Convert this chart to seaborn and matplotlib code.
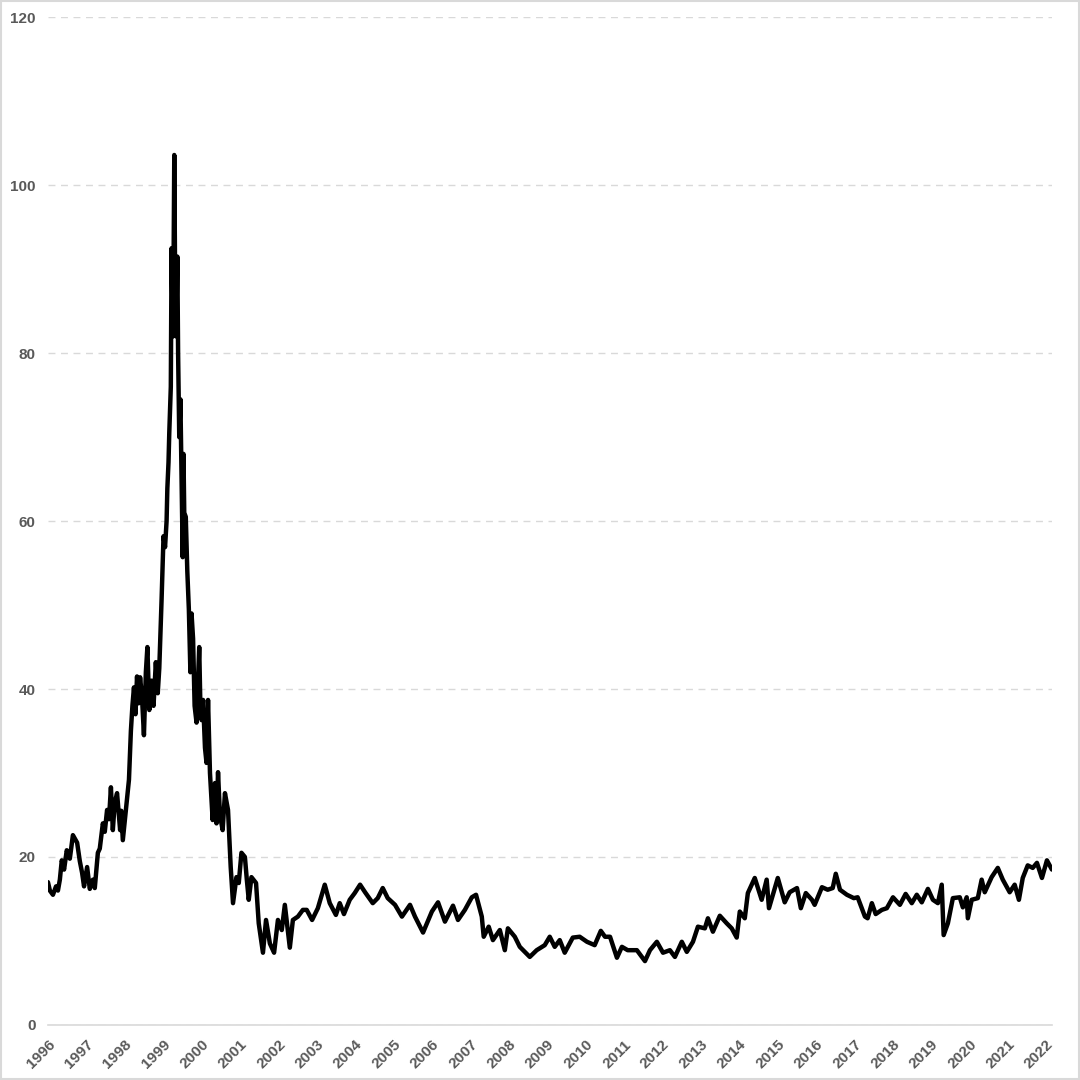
import numpy as np
import pandas as pd
import matplotlib
matplotlib.use('Agg')
import matplotlib.pyplot as plt
import seaborn as sns
from matplotlib.patches import Rectangle

# values (decimal year, price)
years_96_98 = [1996.00, 1996.05, 1996.13, 1996.21, 1996.26, 1996.31, 1996.36, 1996.42,
               1996.49, 1996.57, 1996.65, 1996.76, 1996.83, 1996.89, 1996.94, 1997.02,
               1997.09, 1997.17, 1997.22, 1997.30, 1997.35, 1997.43, 1997.48, 1997.54,
               1997.59, 1997.64, 1997.69, 1997.74, 1997.80, 1997.88, 1997.91, 1997.95]
price_96_98 = [17.0, 16.0, 15.5, 16.5, 16.0, 17.3, 19.6, 18.5,
               20.8, 19.8, 22.6, 21.7, 19.5, 18.1, 16.5, 18.8,
               16.2, 17.3, 16.3, 20.5, 21.0, 24.0, 23.0, 25.6,
               24.5, 28.3, 23.2, 26.5, 27.6, 23.2, 25.5, 22.0]

years_98_00 = [1998.03, 1998.11, 1998.16, 1998.20, 1998.24, 1998.28, 1998.32, 1998.36,
               1998.40, 1998.45, 1998.50, 1998.55, 1998.59, 1998.64, 1998.70, 1998.75,
               1998.81, 1998.86, 1998.90, 1998.96, 1999.01, 1999.05, 1999.09, 1999.11,
               1999.14, 1999.16, 1999.19, 1999.20, 1999.22, 1999.24, 1999.26, 1999.29,
               1999.32, 1999.34, 1999.37, 1999.39, 1999.42, 1999.45, 1999.49, 1999.51,
               1999.53, 1999.55, 1999.59, 1999.63, 1999.67, 1999.71, 1999.74, 1999.78,
               1999.82, 1999.87, 1999.91, 1999.94, 1999.97]
price_98_00 = [25.6, 29.2, 35.0, 38.0, 40.2, 37.0, 41.5, 38.3,
               41.4, 39.0, 34.5, 42.0, 45.0, 37.5, 41.0, 38.0,
               43.2, 39.5, 42.5, 50.7, 58.2, 56.9, 60.0, 63.9,
               67.0, 70.5, 74.9, 76.0, 92.5, 86.0, 82.0, 103.6,
               84.0, 82.0, 91.5, 80.0, 70.0, 74.5, 62.0, 55.7,
               68.0, 61.0, 60.5, 54.0, 49.5, 42.0, 49.0, 46.0,
               38.0, 36.0, 41.0, 45.0, 38.0]

years_00_08 = [2000.00, 2000.04, 2000.09, 2000.13, 2000.17, 2000.22, 2000.29, 2000.35,
               2000.39, 2000.43, 2000.48, 2000.55, 2000.61, 2000.69, 2000.76, 2000.82,
               2000.91, 2000.97, 2001.04, 2001.13, 2001.18, 2001.23, 2001.30, 2001.42,
               2001.49, 2001.60, 2001.68, 2001.78, 2001.89, 2001.99, 2002.09, 2002.17,
               2002.30, 2002.38, 2002.51, 2002.64, 2002.74, 2002.88, 2003.03, 2003.21,
               2003.34, 2003.50, 2003.60, 2003.71, 2003.86, 2003.99, 2004.13, 2004.26,
               2004.46, 2004.59, 2004.72, 2004.85, 2005.04, 2005.22, 2005.43, 2005.56,
               2005.77, 2005.87, 2006.00, 2006.16, 2006.34, 2006.55, 2006.68, 2006.86,
               2007.04, 2007.15, 2007.30, 2007.35, 2007.48, 2007.59, 2007.77, 2007.90,
               2007.98]
price_00_08 = [36.3, 38.7, 33.0, 31.2, 38.7, 30.0, 24.4, 28.8,
               24.0, 30.1, 25.0, 23.2, 27.6, 25.6, 18.8, 14.5,
               17.6, 16.9, 20.5, 20.0, 17.3, 14.9, 17.6, 16.9,
               12.1, 8.6, 12.5, 9.7, 8.6, 12.5, 11.3, 14.3,
               9.2, 12.5, 12.9, 13.7, 13.7, 12.5, 13.9, 16.7,
               14.5, 13.1, 14.5, 13.2, 14.9, 15.7, 16.7, 15.8,
               14.5, 15.1, 16.3, 15.1, 14.3, 12.9, 14.3, 12.9,
               11.0, 12.1, 13.5, 14.6, 12.3, 14.2, 12.5, 13.7,
               15.2, 15.5, 12.9, 10.5, 11.7, 10.1, 11.3, 8.9,
               11.5]

years_08_15 = [2008.16, 2008.29, 2008.55, 2008.73, 2008.94, 2009.07, 2009.20, 2009.33,
               2009.46, 2009.67, 2009.85, 2010.04, 2010.24, 2010.40, 2010.51, 2010.64,
               2010.82, 2010.95, 2011.10, 2011.34, 2011.55, 2011.68, 2011.86, 2012.02,
               2012.20, 2012.33, 2012.51, 2012.64, 2012.80, 2012.93, 2013.11, 2013.19,
               2013.32, 2013.50, 2013.68, 2013.81, 2013.94, 2014.02, 2014.15, 2014.23,
               2014.41, 2014.59, 2014.72, 2014.78]
price_08_15 = [10.5, 9.3, 8.1, 8.9, 9.5, 10.5, 9.3, 10.1,
               8.6, 10.4, 10.5, 9.9, 9.5, 11.2, 10.5, 10.5,
               8.0, 9.3, 8.9, 8.9, 7.6, 8.9, 9.9, 8.6,
               8.9, 8.1, 9.9, 8.7, 9.9, 11.7, 11.5, 12.7,
               11.1, 13.0, 12.1, 11.5, 10.4, 13.5, 12.7, 15.7,
               17.5, 14.9, 17.3, 13.9]

years_15_22 = [2015.01, 2015.19, 2015.32, 2015.51, 2015.61, 2015.74, 2015.90, 2015.97,
               2016.16, 2016.31, 2016.44, 2016.52, 2016.63, 2016.81, 2016.99, 2017.09,
               2017.28, 2017.35, 2017.46, 2017.56, 2017.72, 2017.85, 2018.01, 2018.19,
               2018.34, 2018.50, 2018.63, 2018.76, 2018.92, 2019.05, 2019.18, 2019.28,
               2019.33, 2019.44, 2019.57, 2019.75, 2019.83, 2019.93, 2019.96, 2020.06,
               2020.22, 2020.32, 2020.40, 2020.58, 2020.74, 2020.87, 2021.05, 2021.18,
               2021.29, 2021.39, 2021.52, 2021.65, 2021.76, 2021.89, 2022.02, 2022.15]
price_15_22 = [17.5, 14.6, 15.8, 16.3, 13.9, 15.7, 14.9, 14.3,
               16.4, 16.1, 16.3, 18.0, 16.1, 15.5, 15.1, 15.2,
               12.9, 12.7, 14.5, 13.2, 13.7, 13.9, 15.2, 14.3,
               15.6, 14.5, 15.5, 14.6, 16.2, 14.9, 14.5, 16.7,
               10.7, 12.1, 15.1, 15.2, 14.0, 15.2, 12.7, 14.9,
               15.1, 17.3, 15.8, 17.6, 18.7, 17.3, 15.8, 16.7,
               14.9, 17.5, 19.0, 18.7, 19.3, 17.5, 19.6, 18.5]

year_ticks = list(range(1996, 2023))
y_ticks = [0, 20, 40, 60, 80, 100, 120]

df = pd.DataFrame({
    'year': years_96_98 + years_98_00 + years_00_08 + years_08_15 + years_15_22,
    'price': price_96_98 + price_98_00 + price_00_08 + price_08_15 + price_15_22,
})

sns.set_style('white')
plt.rcParams['font.family'] = ['Liberation Sans', 'DejaVu Sans']

fig = plt.figure(figsize=(10.8, 10.8), dpi=100)
ax = fig.add_axes([0.0444, 0.051, 0.9296, 0.933])

sns.lineplot(data=df, x='year', y='price', color='black', linewidth=3.2, ax=ax, sort=False)

ax.set_xlim(1996, df['year'].max())
ax.set_ylim(0, 120)
ax.set_yticks(y_ticks)
ax.set_xticks(year_ticks)
ax.set_xticklabels([str(y) for y in year_ticks], rotation=45, ha='right',
                   rotation_mode='anchor')
ax.set_xlabel('')
ax.set_ylabel('')

ax.yaxis.grid(True, color='#d9d9d9', linestyle=(0, (5, 4)), linewidth=1)
ax.xaxis.grid(False)
for side in ['top', 'right', 'left']:
    ax.spines[side].set_visible(False)
ax.spines['bottom'].set_color('#d9d9d9')
ax.spines['bottom'].set_linewidth(1.2)

ax.tick_params(axis='y', length=0, pad=9, labelsize=11, labelcolor='#595959')
ax.tick_params(axis='x', length=4, width=1, color='#d9d9d9', pad=5,
               labelsize=11, labelcolor='#595959')
for lab in ax.get_xticklabels() + ax.get_yticklabels():
    lab.set_fontweight('bold')

# light frame round the whole picture
fig.patches.append(Rectangle((0.001, 0.001), 0.998, 0.998, transform=fig.transFigure,
                             fill=False, edgecolor='#d9d9d9', linewidth=1.5))

fig.savefig('out.png', dpi=100)
